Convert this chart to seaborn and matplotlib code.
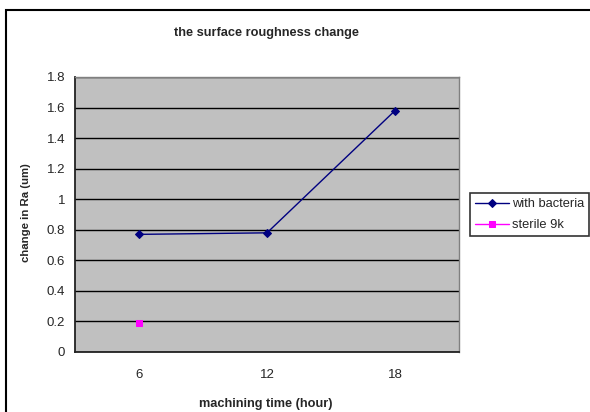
import pandas as pd
import matplotlib.pyplot as plt
import seaborn as sns
from matplotlib.patches import Rectangle

# data
hours = ['6', '12', '18']
with_bacteria = [0.77, 0.78, 1.58]
sterile_hours = ['6']
sterile_9k = [0.19]
y_ticks = [0, 0.2, 0.4, 0.6, 0.8, 1, 1.2, 1.4, 1.6, 1.8]

sns.set_style('white')
plt.rcParams['font.family'] = ['Liberation Sans', 'DejaVu Sans']

fig = plt.figure(figsize=(5.9, 4.12), dpi=100)
ax = fig.add_axes([75 / 590, 1 - 352 / 412, (459 - 75) / 590, (352 - 77) / 412])
ax.set_facecolor('#c0c0c0')

bact = pd.DataFrame({'hour': hours, 'ra': with_bacteria})
ster = pd.DataFrame({'hour': sterile_hours, 'ra': sterile_9k})
sns.lineplot(data=bact, x='hour', y='ra', ax=ax, color='#000080', lw=1,
             marker='D', markersize=4.5, markeredgecolor='#000080', label='with bacteria')
sns.lineplot(data=ster, x='hour', y='ra', ax=ax, color='#ff00ff', lw=1,
             marker='s', markersize=5, markeredgecolor='#ff00ff', label='sterile 9k')

ax.set_xlim(-0.5, 2.5)
ax.set_ylim(0, 1.8)
ax.set_yticks(y_ticks)
ax.set_yticklabels([f'{v:g}' for v in y_ticks], fontsize=9.5)
ax.set_xticks([-0.5, 0.5, 1.5, 2.5], minor=True)
ax.tick_params(axis='x', which='major', length=0, labelsize=9.5, pad=12)
ax.tick_params(axis='x', which='minor', length=4, width=1, color='#222222', direction='out')
ax.tick_params(axis='y', length=4, width=1, color='#222222', direction='out', labelsize=9.5, pad=3)
ax.yaxis.grid(True, color='black', lw=1)
ax.set_axisbelow(True)
for s in ['top', 'right']:
    ax.spines[s].set_color('#808080')
    ax.spines[s].set_linewidth(1)
for s in ['left', 'bottom']:
    ax.spines[s].set_color('#222222')
    ax.spines[s].set_linewidth(1.3)

ax.set_xlabel('machining time (hour)', fontsize=9.2, fontweight='bold')
ax.set_ylabel('change in Ra (um)', fontsize=8.2, fontweight='bold')
ax.xaxis.set_label_coords((266 - 75) / 384, -(398 - 352) / 275, transform=ax.transAxes)
ax.yaxis.set_label_coords(-(75 - 31) / 384, (352 - 213) / 275, transform=ax.transAxes)
fig.text(267 / 590, 1 - 33 / 412, 'the surface roughness change', fontsize=9.2,
         fontweight='bold', ha='center', va='center')

leg = ax.legend(loc='upper left', bbox_to_anchor=(470 / 590, 1 - 193 / 412),
                bbox_transform=fig.transFigure, fontsize=9.3, frameon=True,
                fancybox=False, edgecolor='black', handlelength=2.6, borderpad=0.4,
                labelspacing=0.7, borderaxespad=0, handletextpad=0.25)
leg.get_frame().set_linewidth(1.2)

# outer chart border (only left and top edges are in view)
fig.patches.append(Rectangle((6 / 590, -0.1), 1.0, 1.1 - 10 / 412, transform=fig.transFigure,
                             fill=False, edgecolor='black', lw=1.5))

fig.savefig('out.png', dpi=100)
